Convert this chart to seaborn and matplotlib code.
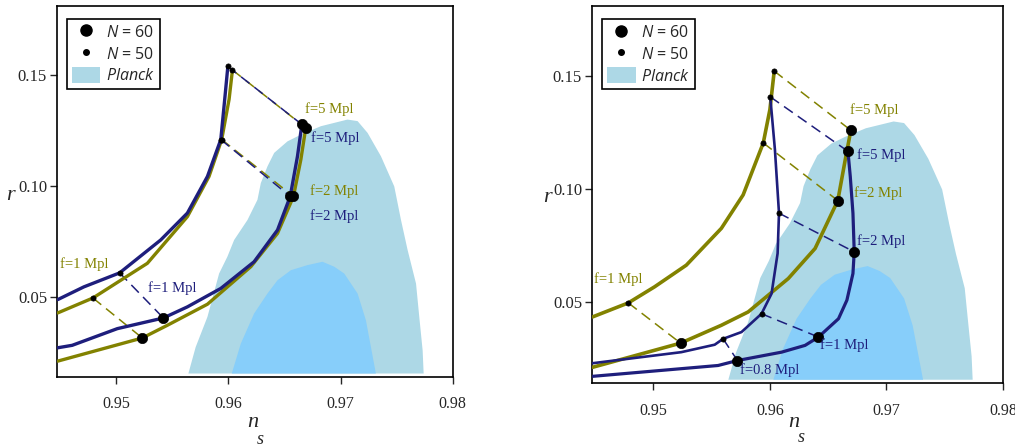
import matplotlib
matplotlib.use("Agg")
import matplotlib.pyplot as plt
import seaborn as sns
import numpy as np
import pandas as pd
from matplotlib.lines import Line2D
from matplotlib.patches import Patch

# ---------------- data ----------------
# Planck contours (n_s, r)
planck95_ns = [0.95643, 0.95708, 0.95813, 0.95917, 0.95991, 0.96051, 0.96170, 0.96259, 0.96289,
               0.96348, 0.96408, 0.96527, 0.96646, 0.96824, 0.97062, 0.97152, 0.97241, 0.97360,
               0.97479, 0.97539, 0.97598, 0.97673, 0.97702, 0.97732, 0.97741]
planck95_r = [0.0155, 0.0274, 0.0410, 0.0605, 0.0681, 0.0756, 0.0846, 0.0937, 0.1012,
              0.1087, 0.1148, 0.1200, 0.1230, 0.1268, 0.1298, 0.1291, 0.1238, 0.1133,
              0.0997, 0.0846, 0.0711, 0.0560, 0.0410, 0.0259, 0.0155]
planck68_ns = [0.96030, 0.96110, 0.96229, 0.96348, 0.96438, 0.96557, 0.96705, 0.96839, 0.96943,
               0.97033, 0.97152, 0.97226, 0.97271, 0.97315]
planck68_r = [0.0155, 0.0289, 0.0425, 0.0515, 0.0575, 0.0620, 0.0643, 0.0658, 0.0636,
              0.0605, 0.0515, 0.0395, 0.0274, 0.0155]

# ----- left panel curves -----
L_navy50_ns = [0.94479, 0.94711, 0.95030, 0.95396, 0.95634, 0.95813, 0.95932, 0.95967, 0.95995]
L_navy50_r = [0.0488, 0.0545, 0.0608, 0.0756, 0.0877, 0.1042, 0.1208, 0.1389, 0.1537]
L_navy60_ns = [0.94479, 0.94607, 0.95009, 0.95420, 0.95634, 0.95932, 0.96229, 0.96438, 0.96551, 0.96616, 0.96655]
L_navy60_r = [0.0271, 0.0282, 0.0357, 0.0405, 0.0455, 0.0538, 0.0658, 0.0801, 0.0952, 0.1133, 0.1276]
L_olive50_ns = [0.94479, 0.94792, 0.95277, 0.95634, 0.95827, 0.95940, 0.96006, 0.96036]
L_olive50_r = [0.0428, 0.0495, 0.0651, 0.0861, 0.1042, 0.1208, 0.1389, 0.1521]
L_olive60_ns = [0.94479, 0.95232, 0.95455, 0.95813, 0.96200, 0.96438, 0.96580, 0.96646, 0.96690]
L_olive60_r = [0.0211, 0.0315, 0.0372, 0.0467, 0.0636, 0.0786, 0.0952, 0.1118, 0.1261]

# left panel marked points, f = 1, 2, 5 Mpl
L_f = ["1", "2", "5"]
L_navy_N60_ns = [0.95420, 0.96551, 0.96655]
L_navy_N60_r = [0.0405, 0.0952, 0.1276]
L_navy_N50_ns = [0.95030, 0.95932, 0.95995]
L_navy_N50_r = [0.0608, 0.1208, 0.1537]
L_olive_N60_ns = [0.95232, 0.96580, 0.96690]
L_olive_N60_r = [0.0315, 0.0952, 0.1261]
L_olive_N50_ns = [0.94792, 0.95940, 0.96036]
L_olive_N50_r = [0.0495, 0.1208, 0.1521]

# ----- right panel curves -----
R_olive50_ns = [0.94477, 0.94784, 0.95009, 0.95282, 0.95583, 0.95770, 0.95943, 0.96000, 0.96037]
R_olive50_r = [0.0433, 0.0495, 0.0566, 0.0662, 0.0825, 0.0973, 0.1203, 0.1351, 0.1521]
R_olive60_ns = [0.94477, 0.95233, 0.95583, 0.95813, 0.96158, 0.96388, 0.96583, 0.96647, 0.96695]
R_olive60_r = [0.0210, 0.0317, 0.0396, 0.0455, 0.0603, 0.0736, 0.0948, 0.1129, 0.1259]
R_navy50_ns = [0.94477, 0.95239, 0.95526, 0.95598, 0.95756, 0.95928, 0.96014, 0.96066, 0.96078, 0.96043, 0.96003]
R_navy50_r = [0.0228, 0.0277, 0.0310, 0.0336, 0.0366, 0.0447, 0.0536, 0.0714, 0.0892, 0.1173, 0.1407]
R_navy60_ns = [0.94477, 0.95555, 0.95721, 0.96100, 0.96302, 0.96417, 0.96589, 0.96661, 0.96713, 0.96724, 0.96713, 0.96690, 0.96670]
R_navy60_r = [0.0170, 0.0218, 0.0240, 0.0277, 0.0307, 0.0344, 0.0425, 0.0507, 0.0625, 0.0721, 0.0892, 0.1055, 0.1166]

# right panel marked points
R_olive_f = ["1", "2", "5"]
R_olive_N60_ns = [0.95233, 0.96583, 0.96695]
R_olive_N60_r = [0.0317, 0.0948, 0.1259]
R_olive_N50_ns = [0.94784, 0.95943, 0.96037]
R_olive_N50_r = [0.0495, 0.1203, 0.1521]
R_navy_f = ["0.8", "1", "2", "5"]
R_navy_N60_ns = [0.95721, 0.96417, 0.96724, 0.96670]
R_navy_N60_r = [0.0240, 0.0344, 0.0721, 0.1166]
R_navy_N50_ns = [0.95598, 0.95928, 0.96078, 0.96003]
R_navy_N50_r = [0.0336, 0.0447, 0.0892, 0.1407]

# labels (text, n_s, r, colour key)
L_labels = [("f=5 Mpl", 0.9690, 0.1347, "olive"), ("f=5 Mpl", 0.9695, 0.1216, "navy"),
            ("f=2 Mpl", 0.9694, 0.0977, "olive"), ("f=2 Mpl", 0.9694, 0.0865, "navy"),
            ("f=1 Mpl", 0.9471, 0.0649, "olive"), ("f=1 Mpl", 0.9550, 0.0540, "navy")]
R_labels = [("f=5 Mpl", 0.9690, 0.1347, "olive"), ("f=5 Mpl", 0.96957, 0.1151, "navy"),
            ("f=2 Mpl", 0.96934, 0.0981, "olive"), ("f=2 Mpl", 0.96957, 0.0770, "navy"),
            ("f=1 Mpl", 0.96638, 0.0307, "navy"), ("f=0.8 Mpl", 0.9600, 0.0199, "navy"),
            ("f=1 Mpl", 0.94698, 0.0599, "olive")]

x_ticks = [0.95, 0.96, 0.97, 0.98]
y_ticks = [0.05, 0.10, 0.15]
x_tick_labels = ["0.95", "0.96", "0.97", "0.98"]
y_tick_labels = ["0.05", "0.10", "0.15"]

# ---------------- style ----------------
sns.set_style("ticks")
plt.rcParams["font.family"] = ["Liberation Serif", "DejaVu Serif"]
plt.rcParams["mathtext.fontset"] = "custom"
plt.rcParams["mathtext.it"] = "Open Sans:italic"
plt.rcParams["mathtext.rm"] = "Open Sans"

COL = {"olive": "#828200", "navy": "#1e1e7c"}
C95 = "#add8e6"
C68 = "#87cefa"

fig = plt.figure(figsize=(10.15, 4.46), dpi=100)
ax1 = fig.add_axes([0.056, 0.155, 0.390, 0.832])
ax2 = fig.add_axes([0.583, 0.141, 0.405, 0.846])


def curve(ax, xs, ys, color, lw):
    sns.lineplot(x=xs, y=ys, sort=False, estimator=None, color=color, lw=lw, ax=ax,
                 zorder=3, solid_capstyle="round")


def dashes(ax, x50, y50, x60, y60, color):
    for a, b, c, d in zip(x50, y50, x60, y60):
        ax.plot([a, c], [b, d], color=color, lw=1.1, ls=(0, (7, 4)), zorder=2)


def dots(ax, xs, ys, size):
    sns.scatterplot(x=xs, y=ys, s=size, color="black", edgecolor="black", linewidth=0.5,
                    ax=ax, zorder=5, legend=False)


def base(ax, rx, ry, nx, ny, sy):
    ax.fill(planck95_ns, planck95_r, color=C95, lw=0, zorder=0)
    ax.fill(planck68_ns, planck68_r, color=C68, lw=0, zorder=1)
    ax.set_xlim(0.9447, 0.98)
    ax.set_ylim(0.014, 0.181)
    ax.set_xticks(x_ticks)
    ax.set_xticklabels(x_tick_labels)
    ax.set_yticks(y_ticks)
    ax.set_yticklabels(y_tick_labels)
    ax.tick_params(axis="x", direction="out", length=5, width=1, pad=9, labelsize=11.5)
    ax.tick_params(axis="y", direction="out", length=5, width=1, pad=2, labelsize=12)
    for s in ax.spines.values():
        s.set_visible(True)
        s.set_linewidth(1.2)
        s.set_color("black")
    ax.set_xlabel("")
    ax.set_ylabel("")
    ax.text(rx, ry, "r", transform=ax.transAxes, fontsize=16, style="italic",
            ha="center", va="center")
    ax.text(nx, ny, "n", transform=ax.transAxes, fontsize=16, style="italic",
            ha="center", va="center")
    ax.text(nx + 0.018, sy, "s", transform=ax.transAxes, fontsize=13, style="italic",
            ha="center", va="center", clip_on=False)
    handles = [Line2D([], [], marker="o", color="black", ls="", ms=8),
               Line2D([], [], marker="o", color="black", ls="", ms=4),
               Patch(facecolor=C95, edgecolor="none")]
    labels = ["$N$ = 60", "$N$ = 50", "$\\mathit{Planck}$"]
    leg = ax.legend(handles, labels, loc="upper left", bbox_to_anchor=(0.025, 0.965),
                    frameon=True, fancybox=False, edgecolor="black", framealpha=1,
                    prop={"family": "Open Sans", "size": 11.5}, handlelength=1.8,
                    handleheight=1.2, borderpad=0.3, labelspacing=0.25, handletextpad=0.35,
                    borderaxespad=0)
    leg.get_frame().set_linewidth(1.2)


def put_labels(ax, labels):
    for t, x, y, c in labels:
        ax.text(x, y, t, color=COL[c], fontsize=10.5, ha="center", va="center", zorder=6)


# ---- left panel ----
base(ax1, -0.118, 0.49, 0.495, -0.122, -0.168)
dashes(ax1, L_olive_N50_ns, L_olive_N50_r, L_olive_N60_ns, L_olive_N60_r, COL["olive"])
dashes(ax1, L_navy_N50_ns, L_navy_N50_r, L_navy_N60_ns, L_navy_N60_r, COL["navy"])
curve(ax1, L_olive50_ns, L_olive50_r, COL["olive"], 2.4)
curve(ax1, L_olive60_ns, L_olive60_r, COL["olive"], 2.4)
curve(ax1, L_navy50_ns, L_navy50_r, COL["navy"], 2.4)
curve(ax1, L_navy60_ns, L_navy60_r, COL["navy"], 2.4)
dots(ax1, L_olive_N60_ns + L_navy_N60_ns, L_olive_N60_r + L_navy_N60_r, 55)
dots(ax1, L_olive_N50_ns + L_navy_N50_ns, L_olive_N50_r + L_navy_N50_r, 14)
put_labels(ax1, L_labels)

# ---- right panel ----
base(ax2, -0.108, 0.493, 0.491, -0.104, -0.143)
dashes(ax2, R_olive_N50_ns, R_olive_N50_r, R_olive_N60_ns, R_olive_N60_r, COL["olive"])
dashes(ax2, R_navy_N50_ns, R_navy_N50_r, R_navy_N60_ns, R_navy_N60_r, COL["navy"])
curve(ax2, R_olive50_ns, R_olive50_r, COL["olive"], 2.6)
curve(ax2, R_olive60_ns, R_olive60_r, COL["olive"], 2.6)
curve(ax2, R_navy50_ns, R_navy50_r, COL["navy"], 1.9)
curve(ax2, R_navy60_ns, R_navy60_r, COL["navy"], 2.3)
dots(ax2, R_olive_N60_ns + R_navy_N60_ns, R_olive_N60_r + R_navy_N60_r, 55)
dots(ax2, R_olive_N50_ns + R_navy_N50_ns, R_olive_N50_r + R_navy_N50_r, 14)
put_labels(ax2, R_labels)

fig.savefig("out.png", dpi=100)
